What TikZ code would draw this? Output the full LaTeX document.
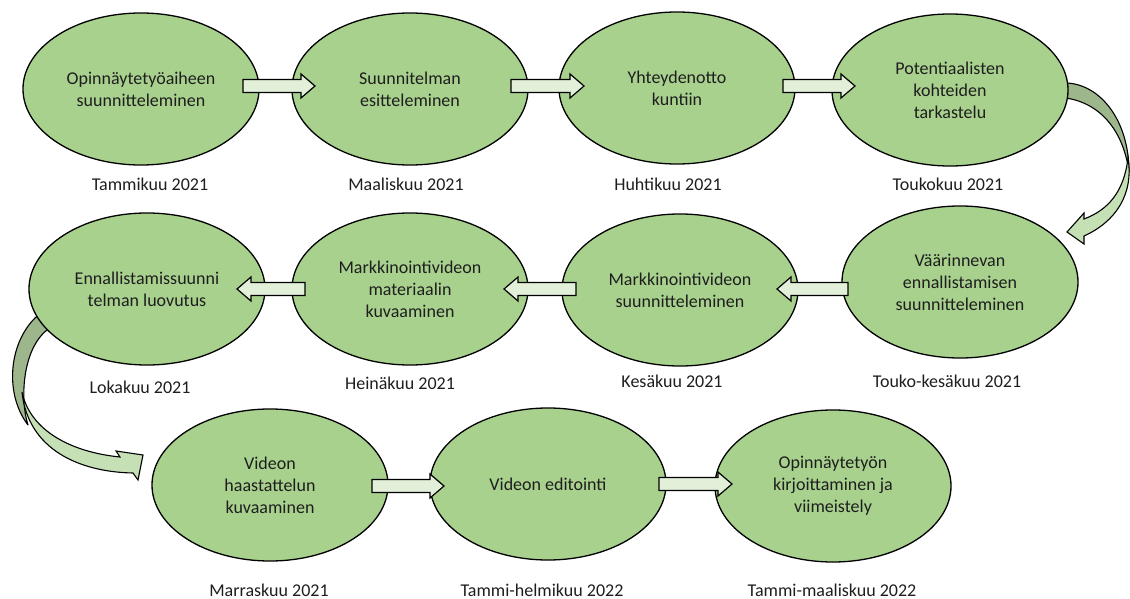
\documentclass[tikz,border=0pt]{standalone}
\usepackage{fontspec}
\setmainfont{Carlito}
\usetikzlibrary{shapes.geometric,calc}
\definecolor{ellfill}{HTML}{A9D18E}
\definecolor{arrfill}{HTML}{E2F0D9}
\definecolor{cdark}{HTML}{9DB68C}
\definecolor{clight}{HTML}{C5E0B4}
\definecolor{txt}{HTML}{1E1E1E}
\newcommand{\barrow}[2]{%
  \draw[barrowst] let \p1=(#1), \p2=(#2), \n1={sign(\x2-\x1)} in
   (\x1,{\y1+6.5pt}) -- ({\x2-\n1*14pt},{\y1+6.5pt}) -- ({\x2-\n1*14pt},{\y1+12pt})
   -- (\x2,\y1) -- ({\x2-\n1*14pt},{\y1-12pt}) -- ({\x2-\n1*14pt},{\y1-6.5pt})
   -- (\x1,{\y1-6.5pt}) -- cycle;}
\begin{document}
\begin{tikzpicture}[x=1pt,y=-1pt, font=\fontsize{18}{22}\selectfont, text=txt,
  stage/.style={ellipse, draw=black, line width=1.3pt, fill=ellfill,
    minimum width=236pt, minimum height=152pt, inner sep=0pt, align=center},
  datelabel/.style={inner sep=0pt},
  barrowst/.style={draw=black, line width=1.2pt, fill=arrfill, line join=miter},
  cdarkst/.style={draw=black, line width=1.1pt, fill=cdark, line join=round},
  clightst/.style={draw=black, line width=1.1pt, fill=clight, line join=miter}]
\useasboundingbox (0,0) rectangle (1130,599);

% curved arrow row1 -> row2 (shape)
\draw[cdarkst] (1055,83) -- (1066,83) .. controls (1100,84) and (1129,120) .. (1129,172)
   .. controls (1124,135) and (1104,104) .. (1066,98) -- (1055,98) -- cycle;
\draw[clightst] (1128,158) .. controls (1134,195) and (1115,222) .. (1084,236) -- (1084,244)
   -- (1067,232) -- (1084,213) -- (1084,219) .. controls (1108,210) and (1124,192) .. (1128,158) -- cycle;

% curved arrow row2 -> row3 (shape)
\draw[cdarkst] (45,310) -- (35,318) .. controls (8,345) and (5,395) .. (28,425)
   .. controls (20,400) and (22,350) .. (47,330) -- (57,322) -- cycle;
\draw[clightst] (22,392) .. controls (30,430) and (70,452) .. (120,457) -- (116,451)
   -- (143,455) -- (138,480) -- (133,473) .. controls (80,472) and (28,450) .. (22,392) -- cycle;

% stages
\node[stage] (e1) at (141,89) {Opinnäytetyöaiheen\\suunnitteleminen};
\node[stage] (e2) at (410,89) {Suunnitelman\\esitteleminen};
\node[stage] (e3) at (677,88) {Yhteydenotto\\kuntiin};
\node[stage] (e4) at (950,90) {Potentiaalisten\\kohteiden\\tarkastelu};
\node[stage] (e5) at (960,282) {Väärinnevan\\ennallistamisen\\suunnitteleminen};
\node[stage] (e6) at (680,290) {Markkinointivideon\\suunnitteleminen};
\node[stage] (e8) at (410,289) {Markkinointivideon\\materiaalin\\kuvaaminen};
\node[stage] (e7) at (147,289) {Ennallistamissuunni\\telman luovutus};
\node[stage] (e9) at (270,485) {Videon\\haastattelun\\kuvaaminen};
\node[stage] (e10) at (548,484) {Videon editointi};
\node[stage] (e11) at (833,486) {Opinnäytetyön\\kirjoittaminen ja\\viimeistely};

% block arrows
\barrow{$(e1.center)+(102,-3)$}{$(e2.center)+(-95,-3)$}
\barrow{$(e2.center)+(101,-3)$}{$(e3.center)+(-93,-3)$}
\barrow{$(e3.center)+(106,-2)$}{$(e4.center)+(-95,-2)$}
\barrow{$(e5.center)+(-112,7)$}{$(e6.center)+(97,-1)$}
\barrow{$(e6.center)+(-104,-1)$}{$(e8.center)+(94,0)$}
\barrow{$(e8.center)+(-105,0)$}{$(e7.center)+(90,0)$}
\barrow{$(e9.center)+(102,1)$}{$(e10.center)+(-104,2)$}
\barrow{$(e10.center)+(111,0)$}{$(e11.center)+(-101,-2)$}

% date labels
\node[datelabel] (l1) at (150,184) {Tammikuu 2021};
\node[datelabel] (l2) at (406,184) {Maaliskuu 2021};
\node[datelabel] (l3) at (668,184) {Huhtikuu 2021};
\node[datelabel] (l4) at (948,184) {Toukokuu 2021};
\node[datelabel] (l5) at (947,381) {Touko-kesäkuu 2021};
\node[datelabel] (l6) at (672,381) {Kesäkuu 2021};
\node[datelabel] (l8) at (400,383) {Heinäkuu 2021};
\node[datelabel] (l7) at (140,387) {Lokakuu 2021};
\node[datelabel] (l9) at (269,590) {Marraskuu 2021};
\node[datelabel] (l10) at (542,590) {Tammi-helmikuu 2022};
\node[datelabel] (l11) at (832,590) {Tammi-maaliskuu 2022};
\end{tikzpicture}
\end{document}
